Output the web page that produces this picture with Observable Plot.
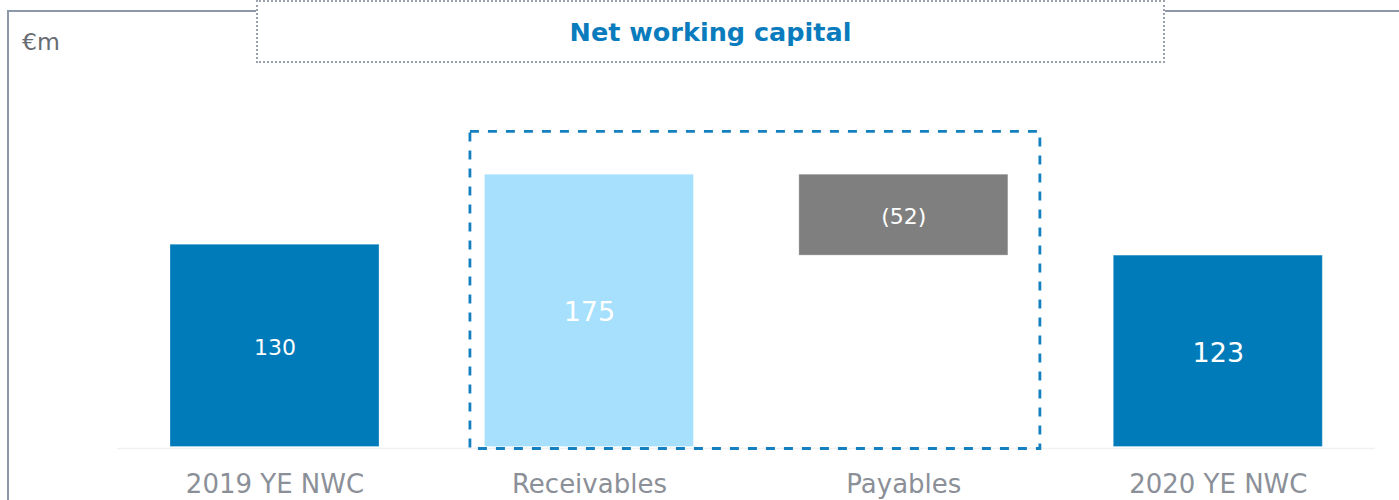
<!DOCTYPE html>
<html>
<head>
<meta charset="utf-8">
<script src="https://cdn.jsdelivr.net/npm/d3@7"></script>
<script src="https://cdn.jsdelivr.net/npm/@observablehq/plot@0.6"></script>
<style>
  html, body { margin: 0; padding: 0; background: #fff; }
  #wrap { position: relative; width: 1399px; height: 500px; overflow: hidden; font-family: "DejaVu Sans", Verdana, sans-serif; }
  #frame { position: absolute; left: 7px; top: 10px; right: -5px; bottom: -5px; border-left: 2px solid #8c97a7; border-top: 2.5px solid #8c97a7; }
  #titlebox { position: absolute; left: 256px; top: 0px; width: 905px; height: 59px; border: 2px dotted #9aa1ad; background: #fff; display: flex; align-items: center; justify-content: center; color: #0a7cbd; font-weight: bold; font-size: 25.5px; }
  #unit { position: absolute; left: 22px; top: 28px; font-size: 23.5px; color: #676b72; }
  #chart { position: absolute; left: 0; top: 0; }
</style>
</head>
<body>
<div id="wrap">
  <div id="frame"></div>
  <div id="chart"></div>
  <div id="titlebox">Net working capital</div>
  <div id="unit">€m</div>
</div>
<script>
// ---- data ----
const categories = ["2019 YE NWC", "Receivables", "Payables", "2020 YE NWC"];
const values = [130, 175, -52, 123];
const kinds = ["total", "delta", "delta", "total"];
const valueLabels = ["130", "175", "(52)", "123"];
const boxedCategories = ["Receivables", "Payables"];

// ---- styles ----
const colors = {total: "#007bba", up: "#a6e0fc", down: "#7f7f7f"};
const labelSize = {"2019 YE NWC": 22, "Receivables": 27, "Payables": 22, "2020 YE NWC": 27};

// build waterfall table
let running = 0;
const rows = categories.map((c, i) => {
  const v = values[i];
  let y1, y2;
  if (kinds[i] === "total") { y1 = 0; y2 = v; running = 0; }
  else { y1 = running; y2 = running + v; running += v; }
  const color = kinds[i] === "total" ? colors.total : (v >= 0 ? colors.up : colors.down);
  return {i, category: c, y1, y2, mid: (y1 + y2) / 2, label: valueLabels[i], color, size: labelSize[c]};
});

const halfW = 0.3324;
const box = [{
  from: categories.indexOf(boxedCategories[0]),
  to: categories.indexOf(boxedCategories[1]),
  top: 202.5
}];

const chart = Plot.plot({
  width: 1399,
  height: 500,
  marginLeft: 117.3,
  marginRight: 24,
  marginTop: 135.3,
  marginBottom: 53.5,
  style: {fontFamily: "DejaVu Sans, Verdana, sans-serif", background: "transparent", overflow: "visible"},
  x: {type: "linear", domain: [-0.5, 3.5], axis: null},
  y: {domain: [0, 200], axis: null},
  marks: [
    Plot.ruleY([0], {x1: -0.5, x2: 3.5, stroke: "#f1f1f1", strokeWidth: 1.5, dy: 1.5}),
    Plot.rect(rows, {
      x1: d => d.i - halfW, x2: d => d.i + halfW,
      y1: "y1", y2: "y2",
      fill: d => d.color,
      stroke: "#ffffff", strokeOpacity: 0.3, strokeWidth: 1
    }),
    Plot.rect(box, {
      x1: d => d.from - halfW, x2: d => d.to + halfW,
      y1: 0, y2: "top",
      insetLeft: -14.5, insetRight: -32, insetBottom: -2,
      fill: "none", stroke: "#1580c0", strokeWidth: 2.8, strokeDasharray: "9,9"
    }),
    Plot.text(rows, {
      x: "i", y: "mid", text: "label",
      fill: "white", fontSize: d => d.size, dy: 2
    }),
    Plot.axisX({
      ticks: categories.map((c, i) => i),
      tickFormat: i => categories[i],
      tickSize: 0, tickPadding: 28, label: null,
      fontSize: 26, color: "#8b9098"
    })
  ]
});
document.getElementById("chart").appendChild(chart);
</script>
</body>
</html>
